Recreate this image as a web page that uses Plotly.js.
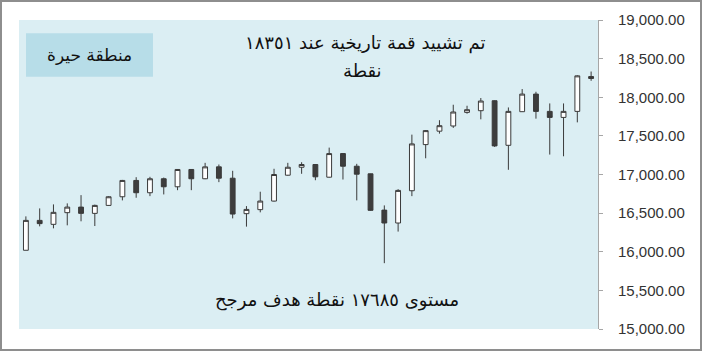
<!DOCTYPE html>
<html>
<head>
<meta charset="utf-8">
<script src="https://cdn.plot.ly/plotly-3.0.1.min.js"></script>
<style>
html,body{margin:0;padding:0;background:#fff;}
#wrap{width:698px;height:347px;border:2px solid #8e8e8e;}
#chart{width:698px;height:347px;}
</style>
</head>
<body>
<div id="wrap"><div id="chart"></div></div>
<script>
// Sessions (index of candle)
const sessions = [1,2,3,4,5,6,7,8,9,10,11,12,13,14,15,16,17,18,19,20,21,22,23,24,25,26,27,28,29,30,31,32,33,34,35,36,37,38,39,40,41,42];
const openVals  = [16019,16406,16355,16506,16578,16497,16600,16712,16923,16764,16945,16841,17065,16945,17099,16952,16493,16545,16656,16991,17094,17129,16965,17271,17107,17009,16539,16372,16790,17387,17561,17628,17804,17826,17955,17378,17813,18041,17817,17739,17817,18268];
const highVals  = [16458,16561,16613,16626,16733,16610,16720,16930,16965,16970,16960,17070,17070,17151,17129,17048,16591,16777,17074,17151,17159,17135,17348,17275,17138,17010,16600,16810,17516,17575,17703,17903,17890,17990,17960,17868,18106,18071,17920,17920,18285,18333];
const lowVals   = [16019,16329,16303,16342,16394,16333,16595,16665,16699,16720,16742,16797,16797,16940,16901,16432,16325,16510,16650,16985,17009,16926,16960,16935,16665,16530,15852,16261,16720,17210,17529,17603,17787,17714,17357,17061,17810,17723,17258,17236,17675,18213];
const closeVals = [16406,16364,16510,16578,16497,16600,16712,16923,16764,16945,16841,17065,16945,17099,16952,16488,16548,16656,17000,17094,17129,16970,17271,17107,17004,16536,16372,16794,17396,17568,17632,17809,17839,17951,17370,17817,18041,17817,17739,17817,18277,18243];

const yTicks = [15000,15500,16000,16500,17000,17500,18000,18500,19000];

const boxLabel = 'منطقة حيرة';
const topLine1 = 'تم تشييد قمة تاريخية عند ١٨٣٥١';
const topLine2 = 'نقطة';
const bottomLabel = 'مستوى ١٧٦٨٥ نقطة هدف مرجح';

const trace = {
  type: 'candlestick',
  x: sessions,
  open: openVals,
  high: highVals,
  low: lowVals,
  close: closeVals,
  increasing: {line: {color: '#3a3a3a', width: 1}, fillcolor: '#ffffff'},
  decreasing: {line: {color: '#3a3a3a', width: 1}, fillcolor: '#3d3d3d'},
  whiskerwidth: 0,
  showlegend: false,
  hoverinfo: 'skip'
};

const arFont = 'DejaVu Sans, Arial, sans-serif';

const layout = {
  width: 698,
  height: 347,
  margin: {l: 17, r: 102, t: 18, b: 20},
  paper_bgcolor: '#ffffff',
  plot_bgcolor: '#DBEEF3',
  boxgap: 0.5,
  showlegend: false,
  xaxis: {
    type: 'linear',
    range: [0.5, 42.5],
    visible: false,
    rangeslider: {visible: false},
    fixedrange: true
  },
  yaxis: {
    side: 'right',
    range: [15000, 19000],
    tickvals: yTicks,
    tickformat: ',.2f',
    showgrid: false,
    zeroline: false,
    showline: true,
    linecolor: '#a6a6a6',
    linewidth: 1,
    ticks: 'outside',
    ticklen: 4,
    tickcolor: '#a6a6a6',
    ticklabelstandoff: 12,
    tickfont: {family: 'Liberation Sans, Arial, sans-serif', size: 15, color: '#333333'},
    fixedrange: true
  },
  shapes: [
    {type: 'rect', xref: 'paper', yref: 'paper', x0: 0.0121, x1: 0.2314, y0: 0.8165, y1: 0.957,
     fillcolor: '#B7DDE8', line: {width: 0}, layer: 'below'}
  ],
  annotations: [
    {xref: 'paper', yref: 'paper', x: 0.1218, y: 0.8867, text: boxLabel, showarrow: false,
     xanchor: 'center', yanchor: 'middle', font: {family: arFont, size: 17, color: '#111'}},
    {xref: 'paper', yref: 'paper', x: 0.5976, y: 0.9256, text: topLine1, showarrow: false,
     xanchor: 'center', yanchor: 'middle', font: {family: arFont, size: 18, color: '#111'}},
    {xref: 'paper', yref: 'paper', x: 0.5925, y: 0.835, text: topLine2, showarrow: false,
     xanchor: 'center', yanchor: 'middle', font: {family: arFont, size: 18, color: '#111'}},
    {xref: 'paper', yref: 'paper', x: 0.549, y: 0.0939, text: bottomLabel, showarrow: false,
     xanchor: 'center', yanchor: 'middle', font: {family: arFont, size: 18, color: '#111'}}
  ]
};

Plotly.newPlot('chart', [trace], layout, {displayModeBar: false, staticPlot: true});
</script>
</body>
</html>
